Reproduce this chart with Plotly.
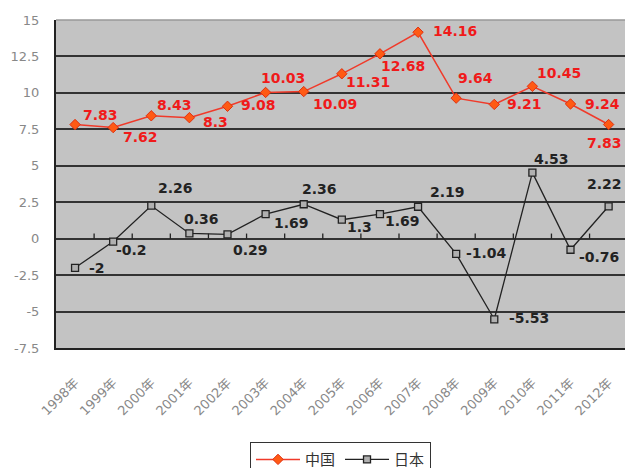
import plotly.graph_objects as go

years = ["1998年", "1999年", "2000年", "2001年", "2002年", "2003年", "2004年", "2005年",
         "2006年", "2007年", "2008年", "2009年", "2010年", "2011年", "2012年"]
china = [7.83, 7.62, 8.43, 8.3, 9.08, 10.03, 10.09, 11.31, 12.68, 14.16, 9.64, 9.21, 10.45, 9.24, 7.83]
japan = [-2, -0.2, 2.26, 0.36, 0.29, 1.69, 2.36, 1.3, 1.69, 2.19, -1.04, -5.53, 4.53, -0.76, 2.22]
ytick_vals = [-7.5, -5, -2.5, 0, 2.5, 5, 7.5, 10, 12.5, 15]

# label offsets (pixels) relative to each point
china_off = [(25, 10), (27, -9), (23, 11), (26, -4), (31, 1), (17, 14), (31, -12), (26, -8),
             (23, -12), (37, 1), (19, 20), (30, 0), (27, 13), (32, 0), (-4, -18)]
japan_off = [(22, 0), (18, -8), (24, 18), (12, 14), (23, -16), (26, -9), (16, 15), (18, -7),
             (23, -7), (29, 15), (30, 1), (35, 1), (19, 14), (28, -7), (-4, 22)]

fig = go.Figure()
fig.add_trace(go.Scatter(
    x=years, y=china, name="中国", mode="lines+markers",
    line=dict(color="#f03a2a", width=1.5),
    marker=dict(symbol="diamond", size=8, color="#ff5a14", line=dict(color="#e03010", width=1)),
    cliponaxis=False,
))
fig.add_trace(go.Scatter(
    x=years, y=japan, name="日本", mode="lines+markers",
    line=dict(color="#222222", width=1.3),
    marker=dict(symbol="square", size=7, color="#b0b0b0", line=dict(color="#222222", width=1.3)),
    cliponaxis=False,
))

for i, v in enumerate(china):
    dx, dy = china_off[i]
    fig.add_annotation(x=i, y=v, text=f"{v:g}", showarrow=False, xanchor="center", yanchor="middle",
                       xshift=dx, yshift=dy,
                       font=dict(family="DejaVu Sans", size=14, color="#f01a1a", weight="bold"))
for i, v in enumerate(japan):
    dx, dy = japan_off[i]
    fig.add_annotation(x=i, y=v, text=f"{v:g}", showarrow=False, xanchor="center", yanchor="middle",
                       xshift=dx, yshift=dy,
                       font=dict(family="DejaVu Sans", size=14, color="#222222", weight="bold"))

# small tick marks on the zero line between categories
for i in range(len(years) - 1):
    fig.add_shape(type="line", xref="x", yref="y", x0=i + 0.5, x1=i + 0.5, y0=0, y1=0.35,
                  line=dict(color="#222222", width=1.3))

# lighter top border
fig.add_shape(type="line", xref="paper", yref="paper", x0=0, x1=1, y0=1, y1=1,
              line=dict(color="#999999", width=1.5))

fig.update_layout(
    width=625, height=468,
    margin=dict(l=56, r=0, t=20, b=120, autoexpand=False),
    paper_bgcolor="white", plot_bgcolor="#c3c3c3",
    showlegend=True,
    legend=dict(orientation="h", x=0.5, xanchor="center", y=-0.287, yanchor="top",
                bordercolor="#333333", borderwidth=1, bgcolor="white",
                font=dict(family="Noto Sans CJK SC", size=15, color="#333333"),
                itemwidth=44, tracegroupgap=0),
    font=dict(family="DejaVu Sans"),
)
fig.update_xaxes(
    type="category", range=[-0.5, 14.43], automargin=False,
    showgrid=False, showline=True, linecolor="#222222", linewidth=2,
    tickangle=-45, ticks="", ticklabelstandoff=20,
    tickfont=dict(family="DejaVu Sans, Noto Sans CJK SC", size=13, color="#888888"),
)
fig.update_yaxes(
    range=[-7.5, 15], tickvals=ytick_vals, ticktext=[f"{v:g}" for v in ytick_vals],
    automargin=False,
    showgrid=True, gridcolor="#333333", gridwidth=1.6,
    zeroline=True, zerolinecolor="#333333", zerolinewidth=1.6,
    showline=True, linecolor="#222222", linewidth=2,
    ticks="", ticklabelstandoff=12,
    tickfont=dict(family="DejaVu Sans", size=13, color="#888888"),
)

fig.write_html("out.html")
